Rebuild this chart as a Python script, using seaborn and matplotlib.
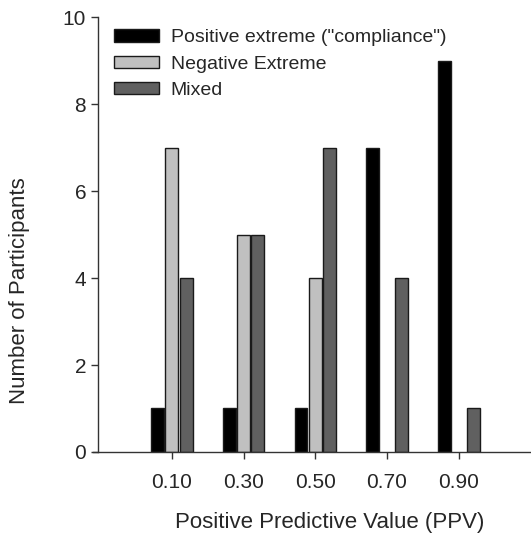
import matplotlib
matplotlib.use("Agg")
import matplotlib.pyplot as plt
from matplotlib.patches import Patch
import seaborn as sns
import pandas as pd

ppv_labels = ["0.10", "0.30", "0.50", "0.70", "0.90"]
groups = ['Positive extreme ("compliance")', "Negative Extreme", "Mixed"]
positive_extreme = [1, 1, 1, 7, 9]
negative_extreme = [7, 5, 4, 0, 0]
mixed = [4, 5, 7, 4, 1]
colors = ["#000000", "#c0c0c0", "#606060"]

rows = []
for g, vals in zip(groups, [positive_extreme, negative_extreme, mixed]):
    for lab, v in zip(ppv_labels, vals):
        rows.append({"PPV": lab, "Participants": v, "Group": g})
df = pd.DataFrame(rows)

sns.set_theme(style="ticks")
plt.rcParams["font.family"] = ["Liberation Sans", "DejaVu Sans"]

fig = plt.figure(figsize=(5.31, 5.47), dpi=100)
ax = fig.add_axes([0.1846, 0.1737, 0.813, 0.795])

sns.barplot(data=df, x="PPV", y="Participants", hue="Group",
            order=ppv_labels, hue_order=groups, palette=colors,
            width=0.6, gap=0.1, edgecolor="#1a1a1a", linewidth=1.0,
            ax=ax, errorbar=None, legend=False)

# hide empty bars so no stray outline sits on the baseline
for cont in ax.containers:
    for p in cont:
        if p.get_height() == 0:
            p.set_visible(False)

ax.set_xlim(-1.03, 4.99)
ax.set_ylim(0, 10)
ax.set_yticks([0, 2, 4, 6, 8, 10])
ax.set_xlabel("Positive Predictive Value (PPV)", fontsize=16)
ax.set_ylabel("Number of Participants", fontsize=16)
ax.xaxis.set_label_coords(0.537, -0.137)
ax.yaxis.set_label_coords(-0.157, 0.372)
ax.tick_params(axis="both", labelsize=15, length=5, width=1, color="#333333",
               direction="out")
ax.tick_params(axis="x", pad=10)
sns.despine(ax=ax)
for s in ["left", "bottom"]:
    ax.spines[s].set_linewidth(1.0)
    ax.spines[s].set_color("#333333")
ax.spines["bottom"].set_bounds(-1.1, 4.99)

handles = [Patch(facecolor=c, edgecolor="#1a1a1a", linewidth=1.0, label=g)
           for c, g in zip(colors, groups)]
ax.legend(handles=handles, loc="upper left", frameon=False, fontsize=14,
          handlelength=2.3, handleheight=0.6, labelspacing=0.48,
          handletextpad=0.6, borderaxespad=0.0,
          bbox_to_anchor=(0.02, 0.99))

fig.savefig("out.png", dpi=100)
